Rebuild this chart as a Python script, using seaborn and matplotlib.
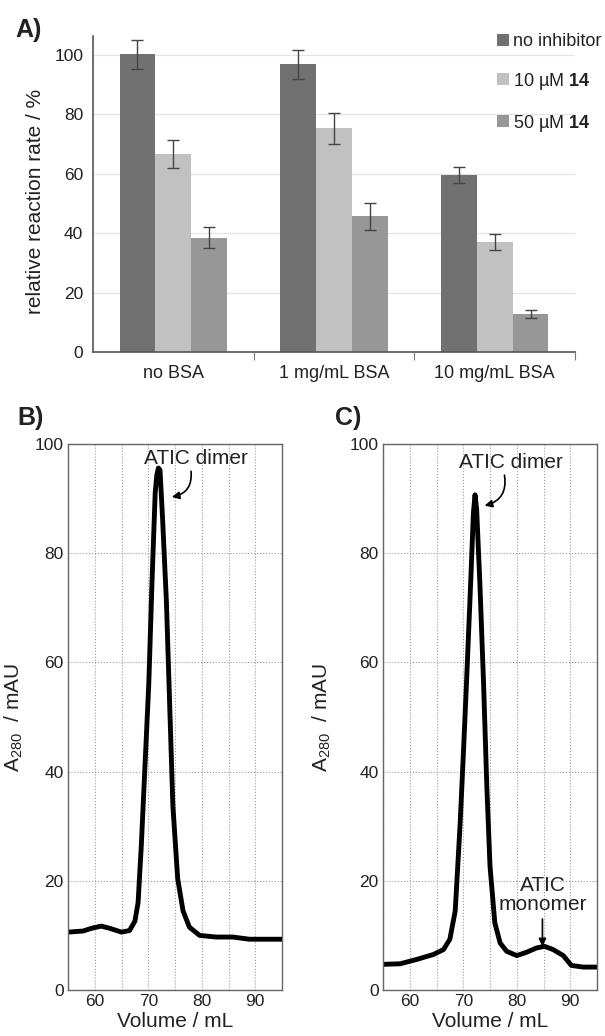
import pandas as pd
import seaborn as sns
import matplotlib.pyplot as plt

# panel A: relative reaction rate
bsa = ['no BSA', '1 mg/mL BSA', '10 mg/mL BSA']
inhib = ['no inhibitor', '10 µM 14', '50 µM 14']
inhib_labels = ['no inhibitor', '10 µM $\\mathbf{14}$', '50 µM $\\mathbf{14}$']
rate_none = [100.2, 96.9, 59.6]
rate_10 = [66.7, 75.3, 37.0]
rate_50 = [38.5, 45.7, 12.8]
err_none = [4.9, 4.9, 2.7]
err_10 = [4.6, 5.1, 2.6]
err_50 = [3.6, 4.6, 1.2]
bar_colors = ['#717171', '#c1c1c1', '#979797']

# panel B: chromatogram without inhibitor
vol_b = [55, 57.8, 59.4, 61.2, 62.8, 65.0, 66.5, 67.5, 68.1, 68.7, 69.4, 70.1, 70.7,
         71.3, 71.6, 71.9, 72.2, 72.7, 73.4, 74.0, 74.6, 75.5, 76.5, 77.7, 79.6,
         82.7, 85.8, 88.9, 95]
abs_b = [10.6, 10.8, 11.3, 11.7, 11.3, 10.6, 10.9, 12.6, 16.0, 26.4, 41.3, 56.1, 74.7,
         91.1, 94.3, 95.6, 95.2, 85.9, 71.0, 52.4, 33.8, 20.4, 14.5, 11.5, 10.0,
         9.7, 9.7, 9.3, 9.3]

# panel C: chromatogram with inhibitor
vol_c = [55, 58.2, 61.3, 64.4, 66.3, 67.5, 68.5, 69.4, 70.0, 70.6, 71.3, 71.9, 72.2,
         72.5, 73.1, 73.8, 74.4, 75.0, 75.9, 76.9, 78.1, 80.0, 81.8, 83.7, 85.2,
         86.8, 88.7, 90.2, 92.4, 95]
abs_c = [4.7, 4.8, 5.6, 6.5, 7.4, 9.3, 14.5, 30.1, 42.8, 56.1, 72.5, 87.4, 90.7,
         88.1, 74.7, 56.1, 37.5, 22.7, 12.3, 8.6, 7.1, 6.3, 6.9, 7.7, 8.0,
         7.4, 6.3, 4.5, 4.2, 4.2]

sns.set_theme(style='white')
plt.rcParams['font.family'] = ['Liberation Sans', 'DejaVu Sans']
plt.rcParams['mathtext.fontset'] = 'custom'
plt.rcParams['mathtext.rm'] = 'Liberation Sans'
plt.rcParams['mathtext.bf'] = 'Liberation Sans:bold'
txt = '#222222'

W, H = 605, 1036
fig = plt.figure(figsize=(W / 100, H / 100), dpi=100)

# ---------- A ----------
df = pd.DataFrame({
    'bsa': bsa * 3,
    'inhibitor': [inhib[0]] * 3 + [inhib[1]] * 3 + [inhib[2]] * 3,
    'rate': rate_none + rate_10 + rate_50,
})
errs = [err_none, err_10, err_50]

axA = fig.add_axes([93 / W, 1 - 352 / H, 482 / W, 316 / H])
sns.barplot(data=df, x='bsa', y='rate', hue='inhibitor', order=bsa, hue_order=inhib,
            palette=bar_colors, saturation=1, width=0.67, errorbar=None,
            linewidth=0, ax=axA)
for cont, e in zip(axA.containers, errs):
    xs = [b.get_x() + b.get_width() / 2 for b in cont]
    ys = [b.get_height() for b in cont]
    axA.errorbar(xs, ys, yerr=e, fmt='none', ecolor='#444444', elinewidth=1,
                 capsize=4, capthick=1)

axA.set_xlim(-0.5, 2.5)
axA.set_ylim(0, 106.4)
axA.set_yticks([0, 20, 40, 60, 80, 100])
axA.yaxis.grid(True, color='#e4e4e4', lw=0.9)
axA.set_axisbelow(True)
axA.set_xlabel('')
axA.set_ylabel('relative reaction rate / %', fontsize=15, color=txt)
axA.yaxis.set_label_coords(-0.10, 0.475)
axA.set_xticks([0.5, 1.5, 2.5], minor=True)
axA.tick_params(axis='x', which='major', length=0, pad=9, labelsize=13, labelcolor=txt)
axA.tick_params(axis='x', which='minor', bottom=True, length=6, width=0.8, color='#777777')
axA.tick_params(axis='y', length=0, pad=7, labelsize=12.5, labelcolor=txt)
for s in ['top', 'right']:
    axA.spines[s].set_visible(False)
for s in ['left', 'bottom']:
    axA.spines[s].set_color('#555555')
    axA.spines[s].set_linewidth(1.2)

axA.get_legend().remove()
fig.legend(axA.containers, inhib_labels, loc='upper left',
           bbox_to_anchor=(497 / W, 1 - 33 / H), bbox_transform=fig.transFigure,
           frameon=False, fontsize=13, borderpad=0, borderaxespad=0,
           handlelength=0.65, handleheight=0.65, handletextpad=0.25,
           labelspacing=1.15, labelcolor=txt)

fig.text(15 / W, 1 - 30 / H, 'A)', fontsize=18, fontweight='bold', va='center', color=txt)


# ---------- B and C ----------
def chrom(ax, vol, a280, ylab_x):
    sns.lineplot(x=vol, y=a280, ax=ax, color='black', lw=3.5, sort=False)
    ax.set_xlim(55, 95)
    ax.set_ylim(0, 100)
    ax.set_xticks([60, 70, 80, 90])
    ax.set_xticks([55, 65, 75, 85, 95], minor=True)
    ax.set_yticks([0, 20, 40, 60, 80, 100])
    ax.grid(True, which='both', axis='x', color='#9a9a9a', ls=':', lw=0.8)
    ax.grid(True, which='major', axis='y', color='#9a9a9a', ls=':', lw=0.8)
    ax.tick_params(which='both', length=0, pad=3, labelsize=12.5, labelcolor=txt)
    for s in ax.spines.values():
        s.set_visible(True)
        s.set_color('#666666')
        s.set_linewidth(1)
    ax.set_xlabel('Volume / mL', fontsize=15, color=txt)
    ax.set_ylabel('$\\mathregular{A_{280}}$  / mAU', fontsize=15, color=txt)
    ax.yaxis.set_label_coords(ylab_x, 0.5)
    ax.xaxis.set_label_coords(0.5, -0.04)


arrow = dict(arrowstyle='-|>', color='black', lw=1.2, mutation_scale=11,
             shrinkA=0, shrinkB=0)

axB = fig.add_axes([68 / W, 1 - 990 / H, 214 / W, 546 / H])
chrom(axB, vol_b, abs_b, -0.20)
axB.text(79.0, 97.4, 'ATIC dimer', ha='center', va='center', fontsize=15, color=txt)
axB.annotate('', xy=(74.4, 90.3), xytext=(78.0, 95.0),
             arrowprops=dict(arrow, connectionstyle='arc3,rad=-0.45'))
fig.text(17 / W, 1 - 418 / H, 'B)', fontsize=18, fontweight='bold', va='center', color=txt)

axC = fig.add_axes([383 / W, 1 - 990 / H, 214 / W, 546 / H])
chrom(axC, vol_c, abs_c, -0.234)
axC.text(78.9, 96.7, 'ATIC dimer', ha='center', va='center', fontsize=15, color=txt)
axC.annotate('', xy=(74.0, 88.7), xytext=(77.7, 94.3),
             arrowprops=dict(arrow, connectionstyle='arc3,rad=-0.45'))
axC.text(84.8, 17.4, 'ATIC\nmonomer', ha='center', va='center', fontsize=15,
         color=txt, linespacing=1.05)
axC.annotate('', xy=(84.8, 8.0), xytext=(84.8, 13.0), arrowprops=arrow)
fig.text(335 / W, 1 - 418 / H, 'C)', fontsize=18, fontweight='bold', va='center', color=txt)

fig.savefig('out.png', dpi=100)
